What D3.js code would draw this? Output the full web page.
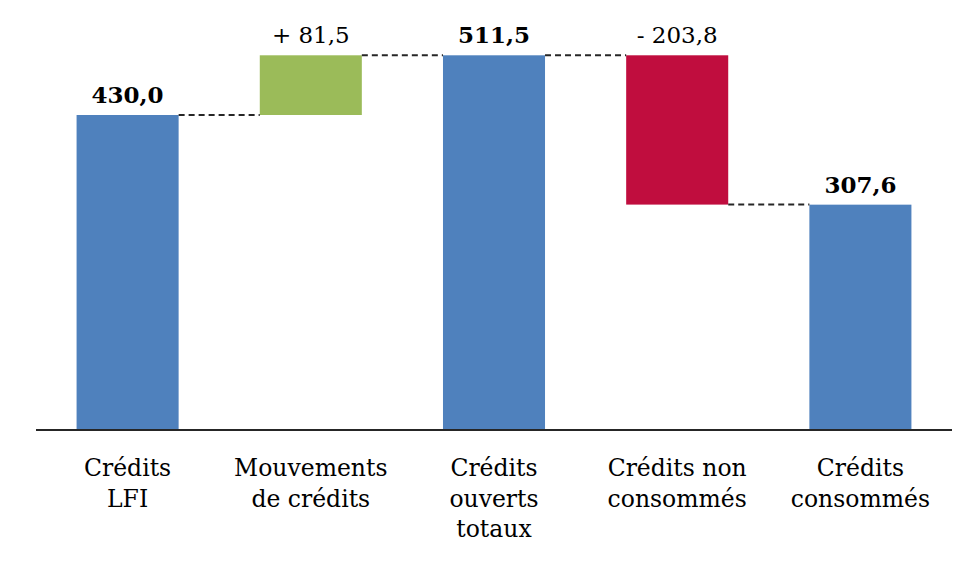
<!DOCTYPE html>
<html><head><meta charset="utf-8">
<script src="https://cdn.jsdelivr.net/npm/d3@7"></script>
<style>body{margin:0;background:#fff}svg{display:block}</style>
</head><body>
<svg id="c" width="976" height="568"></svg>
<script>
const categories = ["Crédits LFI","Mouvements de crédits","Crédits ouverts totaux","Crédits non consommés","Crédits consommés"];
const categoryLines = [["Crédits","LFI"],["Mouvements","de crédits"],["Crédits","ouverts","totaux"],["Crédits non","consommés"],["Crédits","consommés"]];
const values = [430.0, 81.5, 511.5, -203.8, 307.6];
const kinds = ["total","delta","total","delta","total"];
const valueLabels = ["430,0","+ 81,5","511,5","- 203,8","307,6"];

const colors = {total:"#4F81BD", up:"#9BBB59", down:"#C00D3E"};
const font = "'Palatino Linotype','Book Antiqua',Palatino,'DejaVu Serif',serif";

let running = 0;
const segs = values.map((v,i)=>{
  let y0,y1,type;
  if(kinds[i]==="total"){ y0=0; y1=v; running=v; type="total"; }
  else { y0=running; y1=running+v; running=y1; type = v>=0?"up":"down"; }
  return {cat:categories[i], lines:categoryLines[i], y0, y1, top:Math.max(y0,y1), end:y1, type, label:valueLabels[i], bold:kinds[i]==="total"};
});

const svg = d3.select("#c");
const x = d3.scaleBand().domain(categories).range([36,952]).paddingInner(0.443).paddingOuter(0.2215);
const y = d3.scaleLinear().domain([0,430]).range([430,115]);

svg.selectAll("rect.bar").data(segs).join("rect")
  .attr("x",d=>x(d.cat)).attr("width",x.bandwidth())
  .attr("y",d=>y(Math.max(d.y0,d.y1))).attr("height",d=>Math.abs(y(d.y0)-y(d.y1)))
  .attr("fill",d=>colors[d.type]);

svg.selectAll("line.conn").data(segs.slice(0,-1)).join("line")
  .attr("x1",(d)=>x(d.cat)+x.bandwidth()).attr("x2",(d,i)=>x(segs[i+1].cat))
  .attr("y1",d=>y(d.end)).attr("y2",d=>y(d.end))
  .attr("stroke","#262626").attr("stroke-width",2).attr("stroke-dasharray","6,4");

const axis = svg.append("g").attr("transform","translate(0,430)")
  .call(d3.axisBottom(x).tickSize(0).tickFormat(""));
axis.select(".domain").attr("stroke","#262626").attr("stroke-width",2).attr("d","M36,0H952");

const cl = svg.selectAll("text.cat").data(segs).join("text")
  .attr("text-anchor","middle").attr("font-family",font).attr("font-size",23.5).attr("fill","#000");
cl.each(function(d){
  const t=d3.select(this);
  d.lines.forEach((ln,j)=>t.append("tspan").attr("x",x(d.cat)+x.bandwidth()/2).attr("y",476+j*30.5).text(ln));
});

svg.selectAll("text.val").data(segs).join("text")
  .attr("x",d=>x(d.cat)+x.bandwidth()/2).attr("y",d=>y(d.top)-12)
  .attr("text-anchor","middle").attr("font-family",font).attr("font-size",23)
  .attr("font-weight",d=>d.bold?"bold":"normal").attr("fill","#000")
  .text(d=>d.label);
</script>
</body></html>
